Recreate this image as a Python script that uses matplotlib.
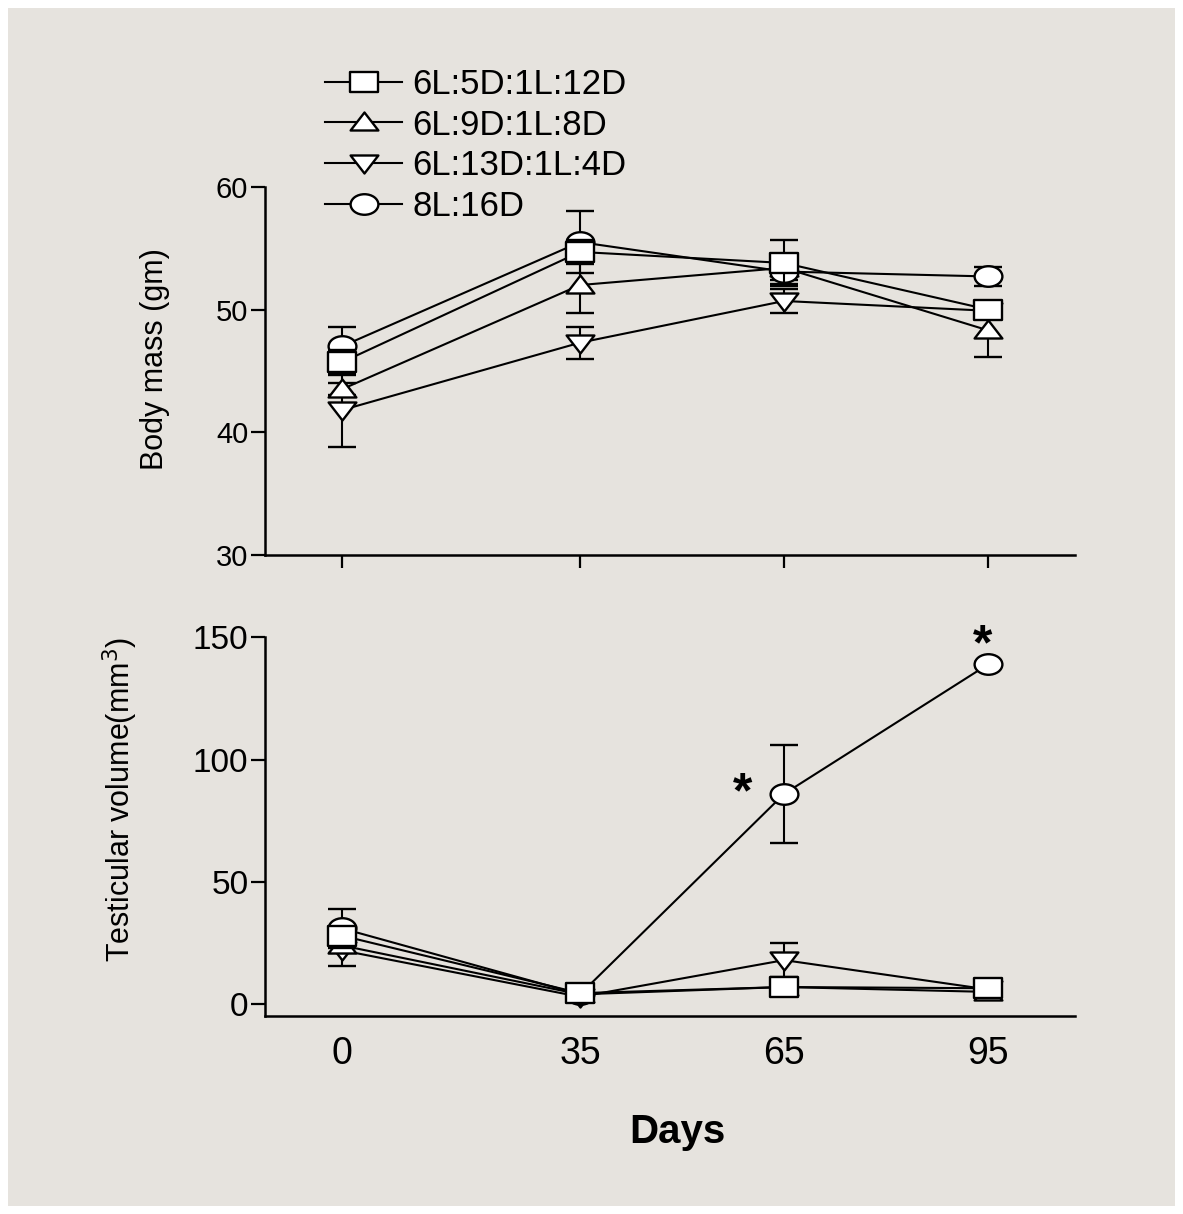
import numpy as np
import matplotlib
matplotlib.use('Agg')
import matplotlib.pyplot as plt
from matplotlib.path import Path
from matplotlib.patches import Rectangle
from matplotlib.lines import Line2D

plt.rcParams['font.family'] = ['Liberation Sans', 'DejaVu Sans']

# données
days = [0, 35, 65, 95]
day_labels = ['0', '35', '65', '95']
groups = ['6L:5D:1L:12D', '6L:9D:1L:8D', '6L:13D:1L:4D', '8L:16D']

# masse corporelle (g)
mass_sq = [45.7, 54.7, 53.8, 50.0]
mass_sq_err = [1.0, 1.0, 1.9, 0.6]
mass_up = [43.5, 52.0, 53.4, 48.3]
mass_up_err = [0.5, 2.3, 1.0, 2.2]
mass_dn = [41.8, 47.3, 50.7, 49.9]
mass_dn_err = [3.0, 1.3, 1.0, 0.5]
mass_ci = [47.0, 55.5, 53.1, 52.7]
mass_ci_err = [1.6, 2.5, 1.0, 0.8]

# volume testiculaire (mm3)
vol_sq = [28, 4.5, 7, 6.5]
vol_sq_err = [3, 1, 1, 1.5]
vol_up = [24, 4, 7, 5]
vol_up_err = [3, 1, 1, 1]
vol_dn = [22, 3, 18, 6]
vol_dn_err = [6.5, 1, 7, 1]
vol_ci = [31, 4, 86, 139]
vol_ci_err = [8, 1, 20, 1]

# la photo est étirée en largeur : marqueurs plus larges que hauts
squash = np.array([1.0, 0.72])
sq = Path(np.array([[-1, -1], [1, -1], [1, 1], [-1, 1], [-1, -1]]) * squash, closed=True)
tri_up = Path(np.array([[0, 1], [-1, -0.8], [1, -0.8], [0, 1]]) * squash, closed=True)
tri_dn = Path(np.array([[0, -1], [-1, 0.8], [1, 0.8], [0, -1]]) * squash, closed=True)
circ = Path.unit_circle()
ellipse = Path(circ.vertices * np.array([1.0, 0.74]), circ.codes)
markers = [sq, tri_up, tri_dn, ellipse]
zorders = [5, 3, 2, 4]  # le carré passe au-dessus

fig = plt.figure(figsize=(11.83, 12.14), dpi=100, facecolor='white')
fig.patches.append(Rectangle((8 / 1183, 8 / 1214), 1 - 16 / 1183, 1 - 16 / 1214,
                             transform=fig.transFigure, facecolor='#e6e3de',
                             edgecolor='none', zorder=-10))

ax1 = fig.add_axes([0.224, 0.543, 0.685, 0.303])
ax2 = fig.add_axes([0.224, 0.163, 0.685, 0.312])

MS = 20


def draw(ax, series, errs):
    for vals, err, mk, z in zip(series, errs, markers, zorders):
        ax.errorbar(days, vals, yerr=err, color='black', lw=1.5,
                    marker=mk, markersize=MS, markerfacecolor='white',
                    markeredgecolor='black', markeredgewidth=1.7,
                    capsize=10, capthick=1.5, elinewidth=1.5, zorder=z)


draw(ax1, [mass_sq, mass_up, mass_dn, mass_ci],
     [mass_sq_err, mass_up_err, mass_dn_err, mass_ci_err])
draw(ax2, [vol_sq, vol_up, vol_dn, vol_ci],
     [vol_sq_err, vol_up_err, vol_dn_err, vol_ci_err])

for ax in (ax1, ax2):
    ax.set_facecolor('none')
    ax.spines['top'].set_visible(False)
    ax.spines['right'].set_visible(False)
    ax.spines['left'].set_linewidth(1.8)
    ax.spines['bottom'].set_linewidth(1.8)
    ax.set_xlim(-11.3, 107.8)
    ax.tick_params(axis='y', length=10, width=1.6, pad=2)

ax1.set_ylim(30, 60)
ax1.set_yticks([30, 40, 50, 60])
ax1.tick_params(axis='y', labelsize=21)
ax1.set_xticks(days)
ax1.set_xticklabels([])
ax1.tick_params(axis='x', length=9, width=1.6)
ax1.set_ylabel('Body mass (gm)', fontsize=22)
ax1.yaxis.set_label_coords(-0.117, 0.533)

ax2.set_ylim(-4.9, 150)
ax2.set_yticks([0, 50, 100, 150])
ax2.tick_params(axis='y', labelsize=24)
ax2.set_xticks(days)
ax2.set_xticklabels(day_labels)
ax2.tick_params(axis='x', length=0, labelsize=27, pad=14)
ax2.set_ylabel('Testicular volume(mm$^3$)', fontsize=22)
ax2.yaxis.set_label_coords(-0.154, 0.573)
ax2.set_xlabel('Days', fontsize=29, fontweight='bold')
ax2.xaxis.set_label_coords(0.509, -0.256)

# étoiles de significativité
ax2.annotate('*', (65, vol_ci[2]), xytext=(-30, 0), textcoords='offset points',
             fontsize=36, fontweight='bold', ha='center', va='center')
ax2.annotate('*', (95, vol_ci[3]), xytext=(-4, 13), textcoords='offset points',
             fontsize=36, fontweight='bold', ha='center', va='center')

handles = [Line2D([], [], color='black', lw=1.5, marker=mk, markersize=MS,
                  markerfacecolor='white', markeredgecolor='black',
                  markeredgewidth=1.7) for mk in markers]
fig.legend(handles, groups, loc='upper left', bbox_to_anchor=(0.275, 0.944),
           frameon=False, fontsize=25, handlelength=2.2, handletextpad=0.3,
           labelspacing=0.22, borderaxespad=0, borderpad=0)

fig.savefig('out.png', dpi=100, facecolor=fig.get_facecolor())
